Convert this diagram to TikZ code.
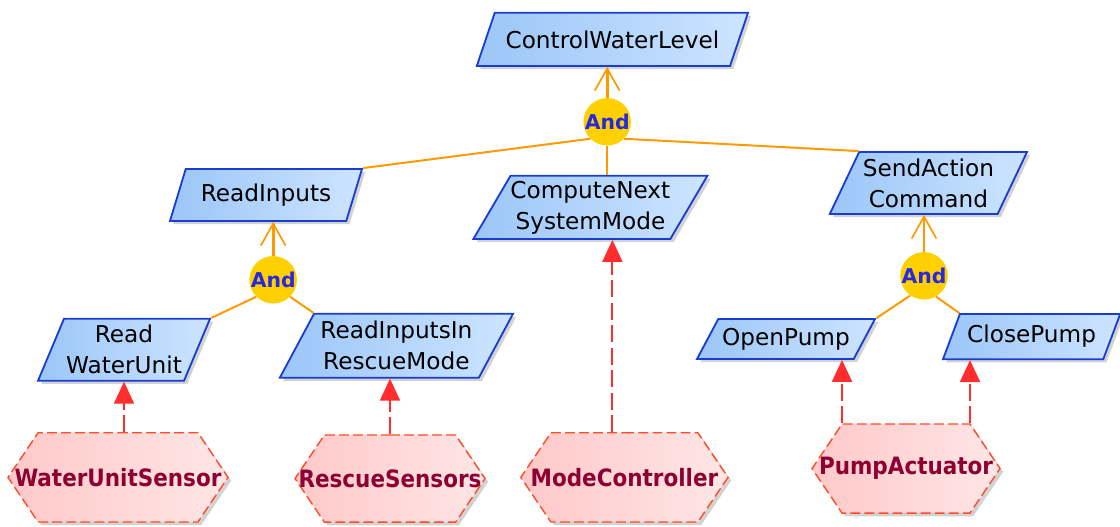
\documentclass[tikz,border=0pt]{standalone}
\usepackage{fontspec}
\setmainfont{DejaVu Sans}
\newfontfamily\agentfont{DejaVu Sans Condensed}
\usepackage{tikz}
\usetikzlibrary{shapes.geometric,shapes.symbols,arrows.meta,shadows}

\definecolor{taskline}{RGB}{25,60,210}
\definecolor{taskdark}{RGB}{155,198,248}
\definecolor{tasklight}{RGB}{205,228,255}
\definecolor{andgold}{RGB}{255,208,0}
\definecolor{andblue}{RGB}{40,40,225}
\definecolor{reforange}{RGB}{255,153,0}
\definecolor{depred}{RGB}{255,45,45}
\definecolor{agentline}{RGB}{255,75,40}
\definecolor{agentdark}{RGB}{255,200,200}
\definecolor{agentlight}{RGB}{255,230,230}
\definecolor{agenttext}{RGB}{140,0,50}

\begin{document}
\begin{tikzpicture}[
		mytask/.style={trapezium, trapezium stretches body, trapezium left angle=55, trapezium right angle=125, draw=taskline, line width=1.3pt, left color=taskdark, right color=tasklight, align=center, inner sep=0pt, font=\fontsize{16.5}{22}\selectfont, drop shadow={shadow xshift=0.08cm, shadow yshift=-0.08cm, fill=gray!70, opacity=0.5}},
		myand/.style={circle, fill=andgold, minimum size=1.1cm, inner sep=0pt, text=andblue, font=\fontsize{14.5}{14.5}\selectfont\bfseries},
		myagent/.style={signal, signal to=east and west, signal pointer angle=112, draw=agentline, line width=1pt, dash pattern=on 7pt off 3pt, left color=agentdark, right color=agentlight, inner sep=0pt, text=agenttext, font=\agentfont\bfseries\fontsize{17}{17}\selectfont, drop shadow={shadow xshift=0.08cm, shadow yshift=-0.08cm, fill=gray!70, opacity=0.5}},
		myref/.style={draw=reforange, line width=1.4pt},
		myup/.style={draw=reforange, line width=2pt, -{Straight Barb[length=0.55cm, width=0.62cm, line width=1.2pt]}},
		mydep/.style={draw=depred, line width=1.5pt, dash pattern=on 12pt off 4pt, -{Triangle[length=0.55cm, width=0.5cm]}}
	]
		\useasboundingbox (0,0) rectangle (28,13.175);

		\node[mytask, trapezium left angle=45, trapezium right angle=135, minimum width=6.78cm, minimum height=1.33cm] (cwl) at (15.31,12.19) {ControlWaterLevel};
		\node[myand] (and1) at (15.18,10.13) {And};

		\node[mytask, minimum width=4.8cm, minimum height=1.3cm] (ri) at (6.65,8.3) {ReadInputs};
		\node[mytask, minimum width=5.73cm, minimum height=1.58cm] (cns) at (14.76,7.99) {ComputeNext\\SystemMode};
		\node[mytask, trapezium left angle=59, trapezium right angle=121, minimum width=4.93cm, minimum height=1.55cm] (sac) at (23.21,8.6) {SendAction\\Command};

		\node[myand] (and2) at (6.83,6.18) {And};
		\node[myand] (and3) at (23.1,6.28) {And};

		\node[mytask, trapezium left angle=62, trapezium right angle=118, minimum width=4.3cm, minimum height=1.55cm] (rwu) at (3.1,4.43) {Read\\WaterUnit};
		\node[mytask, minimum width=5.83cm, minimum height=1.6cm] (rir) at (9.91,4.53) {ReadInputsIn\\RescueMode};
		\node[mytask, trapezium left angle=46, trapezium right angle=134, minimum width=4.45cm, minimum height=1cm] (op) at (19.65,4.7) {OpenPump};
		\node[mytask, trapezium left angle=53, trapezium right angle=127, minimum width=4.43cm, minimum height=1.13cm] (cp) at (25.79,4.76) {ClosePump};

		\node[myagent, minimum width=5.5cm, minimum height=2.23cm] (wus) at (2.95,1.24) {\makebox[0pt]{WaterUnitSensor}};
		\node[myagent, minimum width=4.75cm, minimum height=2.18cm] (rs) at (9.75,1.21) {\makebox[0pt]{RescueSensors}};
		\node[myagent, minimum width=5.18cm, minimum height=2.23cm] (mc) at (15.61,1.24) {\makebox[0pt]{ModeController}};
		\node[myagent, minimum width=4.7cm, minimum height=2.23cm] (pa) at (22.65,1.46) {\makebox[0pt]{PumpActuator}};

		\draw[myup] (and1) -- (and1 |- cwl.south);
		\draw[myref] (and1) -- (and1 |- cns.north);
		\draw[myref] (and1.225) -- (ri.top right corner);
		\draw[myref] (and1.-45) -- (sac.top left corner);

		\draw[myup] (and2) -- (and2 |- ri.south);
		\draw[myref] (and2.225) -- (rwu.top right corner);
		\draw[myref] (and2.-45) -- (rir.top left corner);

		\draw[myup] (and3) -- (and3 |- sac.south);
		\draw[myref] (and3.235) -- (op.top right corner);
		\draw[myref] (and3.-60) -- (cp.top left corner);

		\draw[mydep] (rwu.south |- wus.north) -- (rwu.south);
		\draw[mydep] (rs.north) -- (rs.north |- rir.south);
		\draw[mydep] ([xshift=-0.3cm]mc.north) -- ([xshift=-0.3cm]mc.north |- cns.south);
		\draw[mydep] ([xshift=-1.6cm]pa.north) -- ([xshift=-1.6cm]pa.north |- op.south);
		\draw[mydep] ([xshift=1.6cm]pa.north) -- ([xshift=1.6cm]pa.north |- cp.south);
	\end{tikzpicture}
\end{document}
